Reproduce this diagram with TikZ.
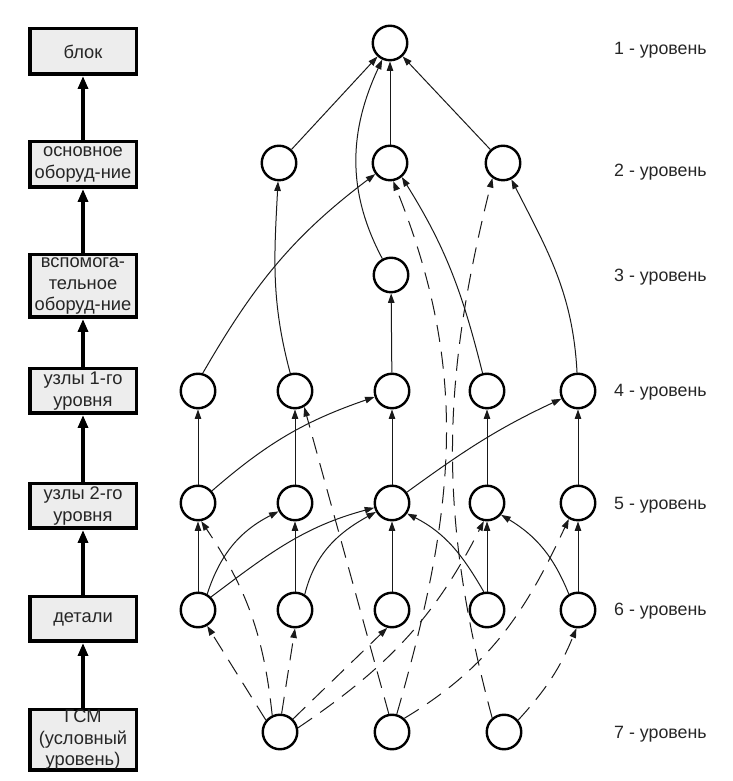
\documentclass[tikz,border=0pt]{standalone}
\usepackage{fontspec}
\setmainfont{Liberation Sans}
\usetikzlibrary{arrows.meta}
\begin{document}
\begin{tikzpicture}[x=1pt,y=1pt,
  circ/.style={circle,draw,line width=2.4pt,minimum size=34.5pt,inner sep=0pt},
  box/.style={draw,line width=3.5pt,fill=black!7,minimum width=106.5pt,align=center,inner sep=0pt,font=\fontsize{18.3}{21.5}\selectfont,text=black!85},
  lvl/.style={anchor=west,inner sep=0pt,font=\fontsize{17.8}{20}\selectfont,text=black!85},
  e/.style={line width=1pt,draw=black!90,-{Triangle[length=9.5pt,width=6.5pt]}},
  d/.style={e,dash pattern=on 17pt off 10pt},
  big/.style={line width=3.5pt,-{Triangle[length=13pt,width=10pt]}}
]
\useasboundingbox (0,0) rectangle (732,781);
% left column
\node[box,minimum height=45.5pt] (k1) at (83,729.5) {блок};
\node[box,minimum height=45.5pt] (k2) at (83,616.5) {основное\\оборуд-ние};
\node[box,minimum height=62.5pt] (k3) at (83,495) {вспомога-\\тельное\\оборуд-ние};
\node[box,minimum height=44.5pt] (k4) at (83,390) {узлы 1-го\\уровня};
\node[box,minimum height=44.5pt] (k5) at (83,275) {узлы 2-го\\уровня};
\node[box,minimum height=44.5pt] (k6) at (83,162) {детали};
\node[box,minimum height=60.5pt] (k7) at (83,41) {ГСМ\\(условный\\уровень)};
\draw[big] (k2) -- (k1);
\draw[big] (k3) -- (k2);
\draw[big] (k4) -- (k3);
\draw[big] (k5) -- (k4);
\draw[big] (k6) -- (k5);
\draw[big] (k7) -- (k6);
% circles
\node[circ] (a) at (390,738) {};
\node[circ] (b1) at (279,618) {};
\node[circ] (b2) at (390,618) {};
\node[circ] (b3) at (503,618) {};
\node[circ] (c) at (391,506) {};
\foreach \i/\x in {1/198,2/295,3/392,4/487,5/578}{
  \node[circ] (d\i) at (\x,390) {};
  \node[circ] (e\i) at (\x,278) {};
  \node[circ] (f\i) at (\x,171) {};
}
\node[circ] (g1) at (280,49) {};
\node[circ] (g2) at (392,49) {};
\node[circ] (g3) at (504,49) {};
% level labels
\node[lvl] (l1) at (614,731) {1 - уровень};
\node[lvl] (l2) at (614,609) {2 - уровень};
\node[lvl] (l3) at (614,504) {3 - уровень};
\node[lvl] (l4) at (614,389) {4 - уровень};
\node[lvl] (l5) at (614,276) {5 - уровень};
\node[lvl] (l6) at (614,170) {6 - уровень};
\node[lvl] (l7) at (614,47) {7 - уровень};
% solid edges
\draw[e] (b1) -- (a);
\draw[e] (b2) -- (a);
\draw[e] (b3) -- (a);
\draw[e] (c) to[out=118,in=-115] (a);
\draw[e] (d1.75) to[out=60,in=217] (b2);
\draw[e] (d2) to[out=105,in=-93] (b1);
\draw[e] (d3) -- (c);
\draw[e] (d4) to[out=104,in=-58] (b2.-50);
\draw[e] (d5) to[out=93,in=-63] (b3);
\foreach \i in {1,...,5}{
  \draw[e] (e\i) -- (d\i);
  \draw[e] (f\i) -- (e\i);
}
\draw[e] (e1) to[out=41,in=199] (d3);
\draw[e] (e3) to[out=36,in=205] (d5);
\draw[e] (f1.60) to[out=72,in=207] (e2);
\draw[e] (f1.45) to[out=37,in=195] (e3);
\draw[e] (f2.58) to[out=76,in=209] (e3);
\draw[e] (f4.100) to[out=120,in=-27] (e3.-35);
\draw[e] (f5.120) to[out=112,in=-31] (e4.-40);
% dashed edges
\draw[d] (g1.140) -- (f1.-60);
\draw[d] (g1.115) to[out=96,in=-56] (e1.-80);
\draw[d] (g1.85) -- (f2.-90);
\draw[d] (g1.45) -- (f3.-105);
\draw[d] (g1.13) to[out=34,in=-117] (e4.-100);
\draw[d] (g2.100) -- (d2.-60);
\draw[d] (g2.75) to[out=74,in=-68] (b2.-80);
\draw[d] (g2.48) to[out=31,in=-115] (e5.-120);
\draw[d] (g3.130) to[out=105,in=-104] (b3.-125);
\draw[d] (g3.40) to[bend right=10] (f5.-95);
\end{tikzpicture}
\end{document}
